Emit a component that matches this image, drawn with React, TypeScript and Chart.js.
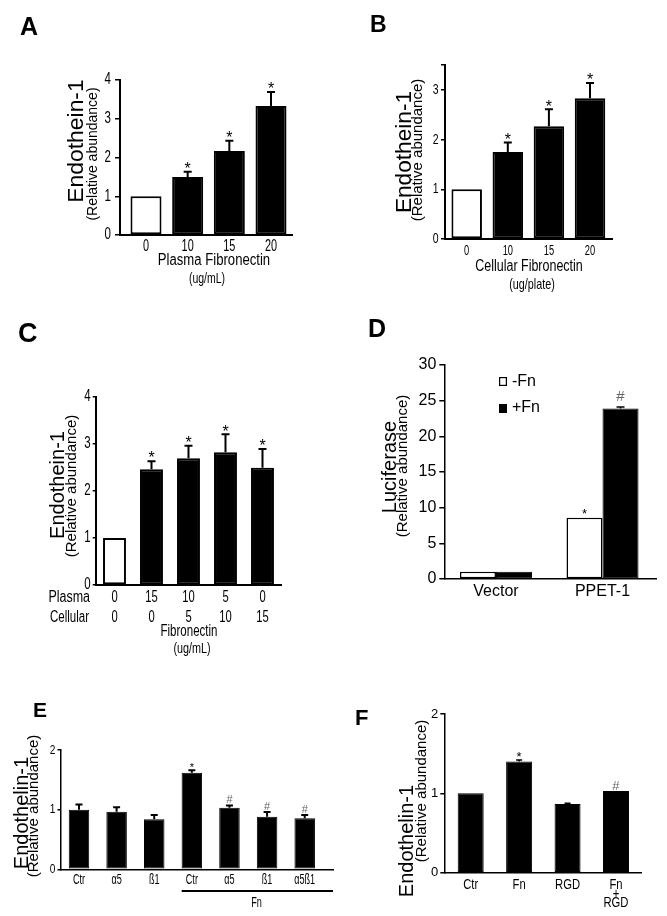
import React, { useEffect, useRef } from "react";
import { Chart, registerables } from "chart.js";

Chart.register(...registerables);

const SANS = '"Liberation Sans", Arial, Helvetica, sans-serif';

// ---------- Panel A ----------
const aCategories = ["0", "10", "15", "20"];
const aValues = [1.0, 1.5, 2.17, 3.33];
const aErrors = [0, 0.13, 0.26, 0.36];
const aMarks = ["", "*", "*", "*"];
const aTicks = [0, 1, 2, 3, 4];

// ---------- Panel B ----------
const bCategories = ["0", "10", "15", "20"];
const bValues = [1.0, 1.75, 2.27, 2.83];
const bErrors = [0, 0.19, 0.34, 0.31];
const bMarks = ["", "*", "*", "*"];
const bTicks = [0, 1, 2, 3, 3.5];
const bHiddenTicks = [3.5];

// ---------- Panel C ----------
const cPlasma = ["0", "15", "10", "5", "0"];
const cCellular = ["0", "0", "5", "10", "15"];
const cValues = [1.0, 2.46, 2.69, 2.82, 2.49];
const cErrors = [0, 0.17, 0.27, 0.38, 0.4];
const cMarks = ["", "*", "*", "*", "*"];
const cTicks = [0, 1, 2, 3, 4];

// ---------- Panel D ----------
const dCategories = ["Vector", "PPET-1"];
const dMinusFn = [1.0, 8.6];
const dPlusFn = [1.0, 23.9];
const dPlusErr = [0, 0.2];
const dMinusMarks = ["", "*"];
const dPlusMarks = ["", "#"];
const dTicks = [0, 5, 10, 15, 20, 25, 30];

// ---------- Panel E ----------
const eCategories = ["Ctr", "α5", "ß1", "Ctr", "α5", "ß1", "α5ß1"];
const eValues = [1.0, 0.965, 0.84, 1.62, 1.03, 0.88, 0.855];
const eErrors = [0.085, 0.075, 0.07, 0.04, 0.04, 0.08, 0.055];
const eMarks = ["", "", "", "*", "#", "#", "#"];
const eTicks = [0, 1, 2];

// ---------- Panel F ----------
const fCategories: string[][] = [["Ctr"], ["Fn"], ["RGD"], ["Fn", "+", "RGD"]];
const fValues = [1.0, 1.4, 0.865, 1.03];
const fErrors = [0, 0.02, 0.01, 0];
const fMarks = ["", "*", "", "#"];
const fTicks = [0, 1, 2];

type Txt = {
  t: string; x: number; y: number; size: number; bold?: boolean; sx?: number;
  rot?: boolean; align?: CanvasTextAlign; base?: CanvasTextBaseline; color?: string;
};
type DS = { data: number[]; errors?: number[]; marks?: string[]; fill: string | string[]; borderW?: number };
type Spec = {
  box: number[]; area: number[]; xMin: number; xMax: number;
  labels: string[][]; xSize: number; xSx: number; xLineY: number[];
  datasets: DS[];
  yMax: number; yTicks: number[]; yHidden?: number[];
  ySize: number; ySx: number; tickLen: number; tickPad: number; tickW: number;
  barPct: number; catPct: number; axisW: number;
  errW: number; capHalf: number;
  starSize: number; gap: number; hashSize: number; hashGap: number; hashColor: string;
  texts: Txt[];
  lines?: number[][];
  rects?: { x: number; y: number; w: number; h: number; fill: string; stroke?: string }[];
};

const whiteFirst = (n: number) => Array.from({ length: n }, (_, i) => (i === 0 ? "#ffffff" : "#000000"));
const single = (arr: string[]) => arr.map((s) => [s]);

const specA: Spec = {
  box: [0, 0, 330, 295], area: [120, 80, 292, 235], xMin: -0.624, xMax: 3.504,
  labels: single(aCategories), xSize: 16, xSx: 0.68, xLineY: [247],
  datasets: [{ data: aValues, errors: aErrors, marks: aMarks, fill: whiteFirst(aValues.length), borderW: 2 }],
  yMax: 4, yTicks: aTicks, ySize: 16, ySx: 0.72, tickLen: 5, tickPad: 4, tickW: 1.5,
  barPct: 0.744, catPct: 1, axisW: 2, errW: 2, capHalf: 4,
  starSize: 16, gap: 7, hashSize: 14, hashGap: 7, hashColor: "#555",
  texts: [
    { t: "A", x: 20, y: 35, size: 25, bold: true, align: "left", base: "alphabetic" },
    { t: "Endothein-1", x: 83, y: 141, size: 22, rot: true, sx: 1.04 },
    { t: "(Relative abundance)", x: 97, y: 154, size: 14, rot: true },
    { t: "Plasma Fibronectin", x: 214, y: 261, size: 16, sx: 0.82 },
    { t: "(ug/mL)", x: 207, y: 279, size: 14, sx: 0.75 },
  ],
};

const specB: Spec = {
  box: [330, 0, 337, 295], area: [445, 65, 612, 239], xMin: -0.528, xMax: 3.535,
  labels: single(bCategories), xSize: 15, xSx: 0.62, xLineY: [251],
  datasets: [{ data: bValues, errors: bErrors, marks: bMarks, fill: whiteFirst(bValues.length), borderW: 2 }],
  yMax: 3.5, yTicks: bTicks, yHidden: bHiddenTicks, ySize: 15, ySx: 0.7, tickLen: 4, tickPad: 2.5, tickW: 1.5,
  barPct: 0.742, catPct: 1, axisW: 2, errW: 2, capHalf: 4,
  starSize: 16, gap: 7, hashSize: 14, hashGap: 7, hashColor: "#555",
  texts: [
    { t: "B", x: 370, y: 32, size: 23, bold: true, align: "left", base: "alphabetic" },
    { t: "Endothein-1", x: 411, y: 152, size: 22, rot: true, sx: 1.03 },
    { t: "(Relative abundance)", x: 422, y: 150, size: 15, rot: true },
    { t: "Cellular Fibronectin", x: 529, y: 267, size: 16, sx: 0.78 },
    { t: "(ug/plate)", x: 532, y: 285, size: 15, sx: 0.72 },
  ],
};

const specC: Spec = {
  box: [0, 295, 330, 365], area: [95.7, 396.7, 281.7, 585], xMin: -0.508, xMax: 4.519,
  labels: cPlasma.map((p, i) => [p, cCellular[i]]), xSize: 16, xSx: 0.7, xLineY: [598, 618],
  datasets: [{ data: cValues, errors: cErrors, marks: cMarks, fill: whiteFirst(cValues.length), borderW: 2 }],
  yMax: 4, yTicks: cTicks, ySize: 16, ySx: 0.72, tickLen: 3, tickPad: 2, tickW: 1.5,
  barPct: 0.62, catPct: 1, axisW: 2, errW: 2, capHalf: 4,
  starSize: 16, gap: 7, hashSize: 14, hashGap: 7, hashColor: "#555",
  texts: [
    { t: "C", x: 18, y: 342, size: 27, bold: true, align: "left", base: "alphabetic" },
    { t: "Endothein-1", x: 64, y: 485, size: 20, rot: true },
    { t: "(Relative abundance)", x: 76, y: 486, size: 15, rot: true },
    { t: "Plasma", x: 90, y: 598, size: 16, sx: 0.78, align: "right" },
    { t: "Cellular", x: 89, y: 618, size: 16, sx: 0.72, align: "right" },
    { t: "Fibronectin", x: 189, y: 632, size: 16, sx: 0.72 },
    { t: "(ug/mL)", x: 192, y: 649, size: 15, sx: 0.72 },
  ],
};

const specD: Spec = {
  box: [330, 295, 337, 310], area: [444.3, 365, 656, 579], xMin: -0.485, xMax: 1.502,
  labels: single(dCategories), xSize: 16, xSx: 1, xLineY: [591.5],
  datasets: [
    { data: dMinusFn, marks: dMinusMarks, fill: "#ffffff", borderW: 1.5 },
    { data: dPlusFn, errors: dPlusErr, marks: dPlusMarks, fill: "#000000", borderW: 1 },
  ],
  yMax: 30, yTicks: dTicks, ySize: 16, ySx: 1, tickLen: 5, tickPad: 3, tickW: 1.5,
  barPct: 1, catPct: 0.676, axisW: 1.5, errW: 1.5, capHalf: 4,
  starSize: 13, gap: 7, hashSize: 15, hashGap: 11, hashColor: "#666",
  texts: [
    { t: "D", x: 368, y: 337, size: 25, bold: true, align: "left", base: "alphabetic" },
    { t: "Luciferase", x: 396, y: 467, size: 20, rot: true },
    { t: "(Relative abundance)", x: 407, y: 466, size: 15, rot: true },
    { t: "-Fn", x: 512, y: 382, size: 16, align: "left" },
    { t: "+Fn", x: 512, y: 408, size: 16, align: "left" },
  ],
  rects: [
    { x: 499, y: 377, w: 8, h: 9, fill: "#ffffff", stroke: "#000" },
    { x: 499, y: 404, w: 8, h: 9, fill: "#000000" },
  ],
};

const specE: Spec = {
  box: [0, 660, 336, 256], area: [61, 750, 333, 869.3], xMin: -0.478, xMax: 6.752,
  labels: single(eCategories), xSize: 14, xSx: 0.65, xLineY: [880],
  datasets: [{ data: eValues, errors: eErrors, marks: eMarks, fill: "#000000", borderW: 1 }],
  yMax: 2, yTicks: eTicks, ySize: 13, ySx: 0.78, tickLen: 3.5, tickPad: 2, tickW: 1.5,
  barPct: 0.545, catPct: 1, axisW: 1.5, errW: 2, capHalf: 3.5,
  starSize: 11, gap: 6, hashSize: 11, hashGap: 6, hashColor: "#666",
  texts: [
    { t: "E", x: 33, y: 717, size: 21, bold: true, align: "left", base: "alphabetic" },
    { t: "Endothelin-1", x: 28, y: 813, size: 20, rot: true },
    { t: "(Relative abundance)", x: 38, y: 806, size: 15, rot: true },
    { t: "Fn", x: 256.5, y: 903, size: 14, sx: 0.65 },
  ],
  lines: [[181.7, 891, 333, 891, 2]],
};

const specF: Spec = {
  box: [330, 660, 337, 256], area: [444.3, 714, 641.7, 872.7], xMin: -0.545, xMax: 3.531,
  labels: fCategories, xSize: 15, xSx: 0.75, xLineY: [885, 894, 903],
  datasets: [{ data: fValues, errors: fErrors, marks: fMarks, fill: "#000000", borderW: 1 }],
  yMax: 2, yTicks: fTicks, ySize: 13, ySx: 1, tickLen: 4, tickPad: 2, tickW: 1.5,
  barPct: 0.537, catPct: 1, axisW: 1.5, errW: 1.5, capHalf: 3,
  starSize: 13, gap: 7, hashSize: 13, hashGap: 6, hashColor: "#666",
  texts: [
    { t: "F", x: 355, y: 725, size: 22, bold: true, align: "left", base: "alphabetic" },
    { t: "Endothelin-1", x: 413, y: 841, size: 20, rot: true },
    { t: "(Relative abundance)", x: 426, y: 791, size: 15, rot: true },
  ],
};

const specs: Spec[] = [specA, specB, specC, specD, specE, specF];

function drawText(
  ctx: CanvasRenderingContext2D, text: string, x: number, y: number, size: number,
  opts: { bold?: boolean; sx?: number; rot?: boolean; align?: CanvasTextAlign; base?: CanvasTextBaseline; color?: string } = {}
) {
  ctx.save();
  ctx.fillStyle = opts.color || "#000";
  ctx.font = `${opts.bold ? "bold " : ""}${size}px ${SANS}`;
  ctx.translate(x, y);
  if (opts.rot) {
    ctx.rotate(-Math.PI / 2);
    ctx.textAlign = "center";
    ctx.textBaseline = "alphabetic";
  } else {
    ctx.textAlign = opts.align || "center";
    ctx.textBaseline = opts.base || "middle";
  }
  ctx.scale(opts.sx ?? 1, 1);
  ctx.fillText(text, 0, 0);
  ctx.restore();
}

function buildChart(canvas: HTMLCanvasElement, spec: Spec) {
  const [ox, oy, w, h] = spec.box;
  const [L, T, R, B] = spec.area;
  const hidden = spec.yHidden || [];
  const plugin = {
    id: "extras",
    afterDraw(chart: any) {
      const ctx: CanvasRenderingContext2D = chart.ctx;
      const ys = chart.scales.y;
      const xs = chart.scales.x;
      const area = chart.chartArea;
      // y tick labels from the y scale
      spec.yTicks.forEach((v) => {
        if (hidden.includes(v)) return;
        drawText(ctx, String(v), area.left - spec.tickLen - spec.tickPad, ys.getPixelForValue(v), spec.ySize, {
          sx: spec.ySx, align: "right",
        });
      });
      // x tick labels from the x scale
      spec.labels.forEach((lines, i) => {
        const px = xs.getPixelForValue(i);
        lines.forEach((s, k) => {
          const yy = spec.xLineY[Math.min(k, spec.xLineY.length - 1)] - oy;
          drawText(ctx, s, px, yy, spec.xSize, { sx: spec.xSx });
        });
      });
      // error bars and significance marks
      spec.datasets.forEach((ds, di) => {
        const meta = chart.getDatasetMeta(di);
        ds.data.forEach((v, i) => {
          const el: any = meta.data[i];
          const x = el.x;
          const err = ds.errors ? ds.errors[i] : 0;
          const yBar = ys.getPixelForValue(v);
          const yTop = ys.getPixelForValue(v + err);
          if (err > 0) {
            ctx.save();
            ctx.strokeStyle = "#000";
            ctx.lineWidth = spec.errW;
            ctx.beginPath();
            ctx.moveTo(x, yBar);
            ctx.lineTo(x, yTop);
            ctx.moveTo(x - spec.capHalf, yTop);
            ctx.lineTo(x + spec.capHalf, yTop);
            ctx.stroke();
            ctx.restore();
          }
          const m = ds.marks ? ds.marks[i] : "";
          if (m) {
            const isStar = m === "*";
            const size = isStar ? spec.starSize : spec.hashSize;
            const gap = isStar ? spec.gap : spec.hashGap;
            const cy = yTop - gap;
            drawText(ctx, m, x, cy + (isStar ? 0.58 : 0.35) * size, size, {
              base: "alphabetic", color: isStar ? "#000" : spec.hashColor,
            });
          }
        });
      });
      (spec.lines || []).forEach(([x1, y1, x2, y2, lw]) => {
        ctx.save();
        ctx.strokeStyle = "#000";
        ctx.lineWidth = lw;
        ctx.beginPath();
        ctx.moveTo(x1 - ox, y1 - oy);
        ctx.lineTo(x2 - ox, y2 - oy);
        ctx.stroke();
        ctx.restore();
      });
      (spec.rects || []).forEach((r) => {
        ctx.save();
        ctx.fillStyle = r.fill;
        ctx.fillRect(r.x - ox, r.y - oy, r.w, r.h);
        if (r.stroke) {
          ctx.strokeStyle = r.stroke;
          ctx.lineWidth = 1.2;
          ctx.strokeRect(r.x - ox + 0.6, r.y - oy + 0.6, r.w - 1.2, r.h - 1.2);
        }
        ctx.restore();
      });
      spec.texts.forEach((t) => {
        drawText(ctx, t.t, t.x - ox, t.y - oy, t.size, t);
      });
    },
  };

  return new Chart(canvas, {
    type: "bar",
    data: {
      datasets: spec.datasets.map((ds) => ({
        data: ds.data.map((v, i) => ({ x: i, y: v })),
        backgroundColor: ds.fill as any,
        borderColor: "#000",
        borderWidth: ds.borderW ?? 0,
        borderSkipped: false,
        inflateAmount: 0,
        barPercentage: spec.barPct,
        categoryPercentage: spec.catPct,
      })),
    },
    options: {
      responsive: false,
      animation: false,
      devicePixelRatio: 1,
      events: [],
      layout: { padding: { left: 0, top: T - oy, right: ox + w - R, bottom: 0 } },
      plugins: { legend: { display: false }, tooltip: { enabled: false }, title: { display: false } },
      scales: {
        x: {
          type: "linear",
          min: spec.xMin,
          max: spec.xMax,
          offset: false,
          grid: { display: false, drawTicks: false },
          border: { display: true, color: "#000", width: spec.axisW },
          ticks: { display: false },
          afterBuildTicks: (s: any) => {
            s.ticks = spec.labels.map((_, i) => ({ value: i }));
          },
          afterFit: (s: any) => {
            s.height = oy + h - B;
          },
        },
        y: {
          type: "linear",
          min: 0,
          max: spec.yMax,
          grid: {
            display: true,
            drawOnChartArea: false,
            drawTicks: true,
            tickLength: spec.tickLen,
            color: "#000",
            lineWidth: spec.tickW,
          },
          border: { display: true, color: "#000", width: spec.axisW },
          ticks: { display: false },
          afterBuildTicks: (s: any) => {
            s.ticks = spec.yTicks.map((v) => ({ value: v }));
          },
          afterFit: (s: any) => {
            s.width = L - ox;
          },
        },
      },
    } as any,
    plugins: [plugin],
  });
}

function Panel({ spec }: { spec: Spec }) {
  const ref = useRef<HTMLCanvasElement | null>(null);
  useEffect(() => {
    if (!ref.current) return;
    const chart = buildChart(ref.current, spec);
    return () => chart.destroy();
  }, [spec]);
  const [x, y, w, h] = spec.box;
  return (
    <canvas
      ref={ref}
      width={w}
      height={h}
      style={{ position: "absolute", left: x, top: y, width: w, height: h }}
    />
  );
}

export default function App() {
  return (
    <div style={{ position: "absolute", left: 0, top: 0, width: 667, height: 916, background: "#fff", overflow: "hidden" }}>
      {specs.map((s, i) => (
        <Panel key={i} spec={s} />
      ))}
    </div>
  );
}
